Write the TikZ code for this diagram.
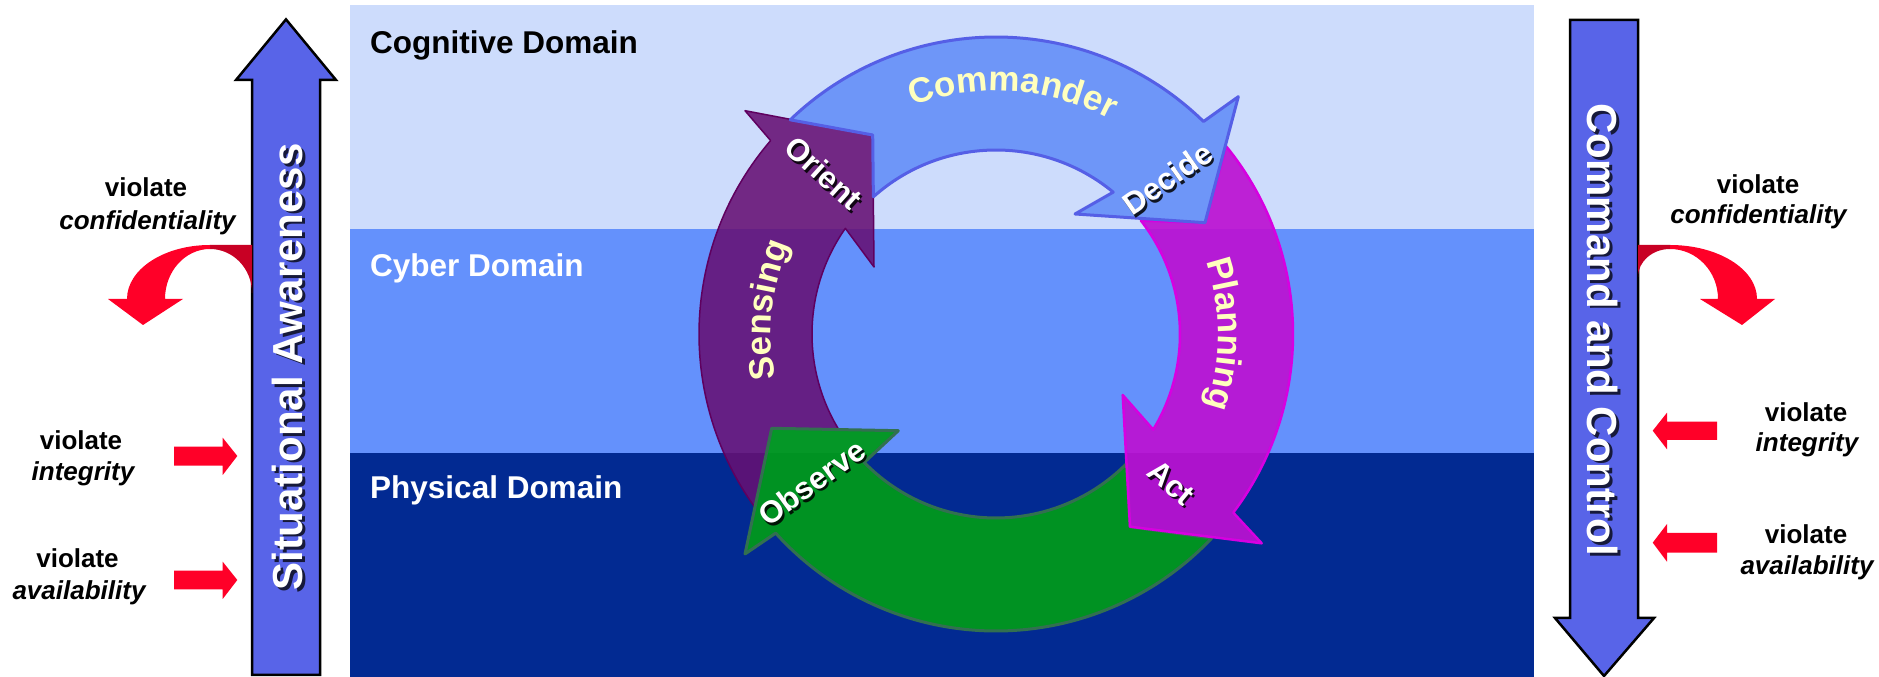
\documentclass[tikz,border=0pt]{standalone}
\usepackage{fontspec}
\setmainfont{Liberation Sans}
\usetikzlibrary{decorations.text}
\definecolor{cogbg}{RGB}{205,220,252}
\definecolor{cybbg}{RGB}{100,145,252}
\definecolor{phybg}{RGB}{2,42,146}
\definecolor{bigblue}{RGB}{88,100,232}
\definecolor{redA}{RGB}{255,0,40}
\definecolor{redB}{RGB}{200,0,36}
\definecolor{cmdfill}{RGB}{110,150,248}
\definecolor{cmdline}{RGB}{85,95,230}
\definecolor{plnfill}{RGB}{188,18,210}
\definecolor{plnline}{RGB}{215,0,225}
\definecolor{obsfill}{RGB}{0,152,28}
\definecolor{obsline}{RGB}{50,112,80}
\definecolor{snsfill}{RGB}{102,16,116}
\definecolor{snsline}{RGB}{95,0,95}
\definecolor{ylw}{RGB}{255,255,190}
\newcommand\ylwfont{\fontsize{35}{40}\selectfont\bfseries\color{ylw}}
\tikzset{
  bigarrow/.style={draw=black, line width=2.5pt, fill=bigblue, line join=miter},
  bigtext/.style={text=white, font=\fontsize{42}{48}\selectfont\bfseries, inner sep=0pt},
  bigshadow/.style={text=black, text opacity=0.75, font=\fontsize{42}{48}\selectfont\bfseries, inner sep=0pt},
  redarrow/.style={fill=redA},
  redback/.style={fill=redB},
  violtext/.style={font=\fontsize{26}{30}\selectfont\bfseries, anchor=base, inner sep=0pt},
  violitext/.style={font=\fontsize{26}{30}\selectfont\bfseries\itshape, anchor=base, inner sep=0pt},
  domaintext/.style={font=\fontsize{31.5}{36}\selectfont\bfseries, anchor=base west, inner sep=0pt},
  wlabel/.style={text=white, font=\fontsize{31}{36}\selectfont\bfseries, inner sep=0pt},
  wshadow/.style={text=black, text opacity=0.85, font=\fontsize{31}{36}\selectfont\bfseries, inner sep=0pt},
  sensing/.style={fill=snsfill, fill opacity=0.88, draw=snsline, line width=1.5pt, line join=round},
  observe/.style={fill=obsfill, fill opacity=0.95, draw=obsline, line width=3pt, line join=round},
  planning/.style={fill=plnfill, fill opacity=0.92, draw=plnline, line width=2.5pt, line join=round},
  commander/.style={fill=cmdfill, draw=cmdline, line width=3pt, line join=round},
  ylwlabel/.style={decorate, decoration={text along path, text align=center, text={|\ylwfont|#1}}}
}
\begin{document}
\begin{tikzpicture}[x=1pt,y=1pt]
\useasboundingbox (0,0) rectangle (1879,677);
\fill[white] (0,0) rectangle (1879,677);

% domain bands
\fill[cogbg] (350,448) rectangle (1534,672);
\fill[cybbg] (350,224) rectangle (1534,448);
\fill[phybg] (350,0) rectangle (1534,224);
\node[domaintext, text=black] (cog) at (370,623.7) {Cognitive Domain};
\node[domaintext, text=white] (cyb) at (370,400.3) {Cyber Domain};
\node[domaintext, text=white] (phy) at (370,178.7) {Physical Domain};

% OODA ring
\begin{scope}[shift={(996,343)}]
\path[sensing] (215.7:297) -- (-224.3,-94.3) -- (211.2:184)
  arc[start angle=211.2, end angle=144.96, radius=184]
  -- (-122,67) -- (-123.3,199) -- (-251,223.3) -- (139.36:297)
  arc[start angle=139.36, end angle=215.7, radius=297] -- cycle;
\path[observe] (-43.45:297) -- (134,-192.7) -- (-44.71:184)
  arc[start angle=-44.71, end angle=-135.73, radius=184]
  -- (-97.7,-96.7) -- (-224.3,-94.3) -- (-251,-220) -- (-137.89:297)
  arc[start angle=-137.89, end angle=-43.45, radius=297] -- cycle;
\path[planning] (39.18:297) -- (209,111.3) -- (38.04:184)
  arc[start angle=38.04, end angle=-31.31, radius=184]
  -- (126.7,-61) -- (134,-192.7) -- (265.7,-209.3) -- (-36.98:297)
  arc[start angle=-36.98, end angle=39.18, radius=297] -- cycle;
\path[commander] (133.85:297) -- (-123.3,199) -- (131.8:184)
  arc[start angle=131.8, end angle=50.43, radius=184]
  -- (79,120) -- (209,111.3) -- (242.3,237.3) -- (45.68:297)
  arc[start angle=45.68, end angle=133.85, radius=297] -- cycle;
\path[ylwlabel=Commander] (120:243) arc[start angle=120, end angle=52, radius=243];
\path[ylwlabel=Planning] (30:222) arc[start angle=30, end angle=-30, radius=222];
\path[ylwlabel=Sensing] (204:225) arc[start angle=204, end angle=144, radius=225];
\end{scope}

% white step labels
\node[wshadow, rotate=-42] (orientS) at (826,501.5) {Orient};
\node[wlabel, rotate=-42] (orient) at (824,504) {Orient};
\node[wshadow, rotate=35] (decideS) at (1169.5,496.2) {Decide};
\node[wlabel, rotate=35] (decide) at (1167.5,498.7) {Decide};
\node[wshadow, rotate=-40] (actS) at (1173,191.5) {Act};
\node[wlabel, rotate=-40] (act) at (1171,194) {Act};
\node[wshadow, rotate=36] (observeS) at (813.7,192) {Observe};
\node[wlabel, rotate=36] (observe) at (811.7,194.5) {Observe};

% Situational Awareness arrow
\path[bigarrow] (252,2) -- (252,597) -- (236,597) -- (286,657.6) -- (336,597) -- (320,597) -- (320,2) -- cycle;
\node[bigshadow, rotate=90] (saS) at (290,307.5) {Situational Awareness};
\node[bigtext, rotate=90] (sa) at (287.5,310) {Situational Awareness};

% Command and Control arrow
\path[bigarrow] (1570,657) -- (1570,59) -- (1555,59) -- (1604,1) -- (1654,59) -- (1638,59) -- (1638,657) -- cycle;
\node[bigshadow, rotate=-90] (ccS) at (1605.2,344.5) {Command and Control};
\node[bigtext, rotate=-90] (cc) at (1602.7,347) {Command and Control};

% left red arrows
\path[redback] (252,384) arc[start angle=0, end angle=90, x radius=42, y radius=44] -- (210,432) -- (252,432) -- cycle;
\path[redarrow] (210,432) arc[start angle=90, end angle=180, x radius=83, y radius=54]
  -- (108,378) -- (143,352) -- (183,378) -- (165,378)
  arc[start angle=180, end angle=90, x radius=45, y radius=50] -- cycle;
\path[redarrow] (174,230.3) -- (222.7,230.3) -- (222.7,239.3) -- (237.3,221) -- (222.7,202) -- (222.7,211.3) -- (174,211.3) -- cycle;
\path[redarrow] (174,106.3) -- (222.7,106.3) -- (222.7,115.3) -- (237.3,97) -- (222.7,78) -- (222.7,87.7) -- (174,87.7) -- cycle;

% right red arrows
\path[redback] (1638,400) arc[start angle=180, end angle=90, x radius=32, y radius=28] -- (1670,432) -- (1638,432) -- cycle;
\path[redarrow] (1670,432) arc[start angle=90, end angle=0, x radius=87, y radius=54]
  -- (1775,378) -- (1742,352) -- (1700,378) -- (1718,378)
  arc[start angle=0, end angle=90, x radius=48, y radius=50] -- cycle;
\path[redarrow] (1717,255.3) -- (1667,255.3) -- (1667,264.3) -- (1652.7,246.3) -- (1667,227.7) -- (1667,237) -- (1717,237) -- cycle;
\path[redarrow] (1717,144) -- (1667,144) -- (1667,153) -- (1652.7,134.3) -- (1667,115.3) -- (1667,124.3) -- (1717,124.3) -- cycle;

% violation labels
\node[violtext] (lcv) at (146,480.3) {violate};
\node[violitext] (lcc) at (147.5,447.5) {confidentiality};
\node[violtext] (liv) at (81,227) {violate};
\node[violitext] (lii) at (83,196) {integrity};
\node[violtext] (lav) at (77.5,109) {violate};
\node[violitext] (laa) at (79,77) {availability};
\node[violtext] (rcv) at (1758,483.5) {violate};
\node[violitext] (rcc) at (1758.5,453.5) {confidentiality};
\node[violtext] (riv) at (1806,255.3) {violate};
\node[violitext] (rii) at (1807,225.3) {integrity};
\node[violtext] (rav) at (1806,133) {violate};
\node[violitext] (raa) at (1807,102) {availability};
\end{tikzpicture}
\end{document}
